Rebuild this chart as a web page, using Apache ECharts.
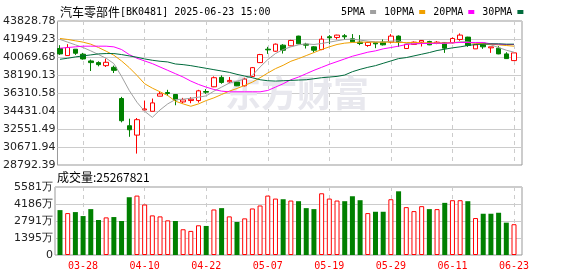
<!DOCTYPE html>
<html><head><meta charset="utf-8">
<script src="https://cdn.jsdelivr.net/npm/echarts@6/dist/echarts.min.js"></script>
<style>html,body{margin:0;padding:0;background:#fff}#c{width:578px;height:276px}</style>
</head><body><div id="c"></div>
<script>
const titleName = '汽车零部件';
const titleInfo = '[BK0481] 2025-06-23 15:00';
const volumeCaption = '成交量:25267821';
const watermark = '东方财富';

const dates = ['03-25','03-26','03-27','03-28','03-31','04-01','04-02','04-03','04-07','04-08',
  '04-09','04-10','04-11','04-14','04-15','04-16','04-17','04-18','04-21','04-22',
  '04-23','04-24','04-25','04-28','04-29','04-30','05-06','05-07','05-08','05-09',
  '05-12','05-13','05-14','05-15','05-16','05-19','05-20','05-21','05-22','05-23',
  '05-26','05-27','05-28','05-29','05-30','06-03','06-04','06-05','06-06','06-09',
  '06-10','06-11','06-12','06-13','06-16','06-17','06-18','06-19','06-20','06-23'];

const opens  = [40955,40219,40885,40359,39658,39483,39167,38992,35732,32893,
  31912,34541,34401,35978,36363,36153,35382,35522,35522,36468,
  36959,37941,37485,37450,37064,38046,39483,40885,40674,41305,
  41235,42252,41410,41130,40850,42181,42111,42287,41971,41621,
  41270,41550,41621,41621,42252,40955,41375,41621,41691,41480,
  41586,41550,41901,42146,40920,41516,41025,40990,40394,39693];
const closes = [40394,41060,40464,39868,39483,39272,39518,38677,33419,32472,
  33524,34646,35277,36223,36258,35592,35592,35662,36539,36398,
  37906,37415,37625,37064,37765,38957,40324,40815,41410,40779,
  41796,41445,41305,40779,41936,42076,42357,42181,41656,41480,
  41586,41445,41340,42252,41621,41375,41621,41796,41340,41621,
  40990,42006,42357,41270,41340,41130,41130,40394,39903,40499];
const lows   = [40289,40219,40289,39798,38606,39097,39027,38396,33244,31737,
  29984,34470,34401,35978,36013,35031,35242,35242,35312,36223,
  36924,37275,37345,37029,36994,37975,39448,40394,40604,40429,
  41200,41410,40955,40534,40779,41410,41901,41866,41621,41305,
  41130,40990,41270,41480,41130,40920,41340,41165,41305,41410,
  40499,41480,41761,41130,40920,40920,40499,40359,39868,39693];
const highs  = [41305,41410,40885,40499,39798,39623,39903,39167,35907,33629,
  33699,35522,35732,36468,36644,36153,35802,35872,36644,36714,
  38046,38151,37975,37485,37906,39027,40394,41130,41480,41410,
  41866,42287,41550,41200,42287,42357,42392,42462,42462,42357,
  41656,41586,41901,42462,42322,41480,41691,41831,41761,41726,
  41621,42111,42532,42181,41410,41550,41130,41200,40569,40499];

const ma5  = [41901,41621,41340,41060,40710,40324,39938,39378,38046,36574,
  35347,34401,33769,34541,35172,35627,35662,35767,35872,36013,
  36504,36924,37345,37555,37765,38151,39027,39798,40429,40850,
  41130,41340,41445,41375,41480,41621,41761,41901,41936,41831,
  41726,41656,41621,41726,41761,41480,41445,41480,41480,41480,
  41480,41550,41656,41656,41480,41445,41340,41060,40779,40569];
const ma10 = [42006,41901,41761,41621,41410,41060,40674,40254,39658,38957,
  38151,37275,36819,36434,36048,35452,35172,34926,35172,35522,
  35802,36153,36504,36784,37099,37450,37906,38396,38852,39202,
  39623,39903,40219,40534,40850,41130,41375,41516,41586,41621,
  41621,41621,41621,41621,41586,41586,41586,41550,41550,41550,
  41550,41586,41586,41586,41516,41445,41410,41340,41270,41200];
const ma20 = [40990,41060,41130,41200,41200,41200,41200,41130,40850,40324,
  39938,39658,39378,39027,38677,38326,37975,37555,37205,36924,
  36679,36504,36434,36434,36434,36434,36434,36574,36924,37275,
  37695,37975,38326,38677,38992,39308,39588,39868,40149,40359,
  40569,40710,40920,41060,41200,41375,41445,41480,41480,41516,
  41516,41550,41586,41586,41586,41586,41445,41410,41375,41375];
const ma30 = [39833,39938,40079,40184,40289,40394,40429,40429,40324,40184,
  40044,39868,39728,39623,39553,39342,39272,39167,39027,38887,
  38747,38607,38466,38256,38081,37906,37695,37590,37555,37590,
  37625,37660,37695,37800,37906,37975,38046,38186,38536,38782,
  38992,39167,39413,39658,39903,40009,40184,40359,40534,40744,
  40885,41025,41130,41270,41375,41410,41445,41445,41410,41410];

// volume in 万
const volumes = [3684,3440,3522,3197,3766,2872,3088,3115,2790,4741,
  4876,4145,3251,3170,2844,2790,2113,1978,2438,2384,
  3738,3847,3170,2709,3007,3820,4064,4876,4632,4578,
  4470,4416,3847,3766,5066,4632,4470,4416,4822,4497,
  3440,3549,3549,4578,5228,3928,3603,4009,3766,3766,
  4280,4497,4497,4416,3034,3386,3386,3467,2655,2526.78];
const volUp = [0,1,0,0,0,0,1,0,0,0, 1,1,1,1,1,0,1,1,1,0,
  1,0,1,0,1,1,1,1,1,0, 1,0,0,0,1,1,1,0,0,0,
  1,0,0,1,0,1,1,1,0,1, 0,1,1,0,1,0,0,0,0,1];

const priceTicks = ['28792.39','30671.94','32551.49','34431.04','36310.58','38190.13','40069.68','41949.23','43828.78'];
const volTicks = ['0','1395万','2791万','4186万','5581万'];
const priceMin = 28792.39, priceMax = 43828.78, volMax = 5581;

const RED = '#ff0000', GREEN = '#008000';
const labelIdx = (i) => (i - 3) % 8 === 0;

const candleData = dates.map((d, i) => [opens[i], closes[i], lows[i], highs[i]]);
const volData = volumes.map((v, i) => ({
  value: v,
  itemStyle: volUp[i] ? {color: '#fff', borderColor: RED, borderWidth: 1} : {color: GREEN, borderColor: GREEN, borderWidth: 0}
}));

const chart = echarts.init(document.getElementById('c'), null, {renderer: 'canvas'});
const axisFont = {fontFamily: 'DejaVu Sans', fontSize: 11, color: '#222'};
const option = {
  animation: false,
  backgroundColor: '#fff',
  title: {
    left: 55, top: 1,
    text: '{cn|' + titleName + '}{m|' + titleInfo + '}',
    textStyle: {fontWeight: 'normal', rich: {
      cn: {fontFamily: 'Noto Sans CJK SC', fontSize: 12, color: '#000', fontWeight: 'normal'},
      m: {fontFamily: 'DejaVu Sans Mono', fontSize: 10, color: '#000', fontWeight: 'normal'}
    }}
  },
  legend: {
    left: 336, top: 2, align: 'right', icon: 'rect',
    itemWidth: 6, itemHeight: 4, itemGap: 8,
    textStyle: {fontFamily: 'DejaVu Sans Mono', fontSize: 10, color: '#000'},
    data: ['5PMA', '10PMA', '20PMA', '30PMA']
  },
  graphic: [
    {type: 'text', left: 57, top: 171, z: 5, style: {text: volumeCaption, font: '12px "Noto Sans CJK SC"', fill: '#000'}},
    {type: 'text', x: 297, y: 93, z: 1, style: {text: watermark, font: 'bold 36px "Noto Sans CJK SC"', fill: '#e8e8ee', align: 'center', verticalAlign: 'middle'}}
  ],
  grid: [
    {left: 55, right: 56, top: 21, height: 144, show: true, borderColor: '#999', borderWidth: 1},
    {left: 60, right: 64, top: 21, height: 144},
    {left: 55, right: 56, top: 187, height: 68, show: true, borderColor: '#999', borderWidth: 1},
    {left: 60, right: 64, top: 187, height: 68}
  ],
  xAxis: [
    {type: 'value', gridIndex: 0, min: 0, max: 1, show: false},
    {type: 'category', gridIndex: 1, data: dates, boundaryGap: false,
      axisLine: {show: false}, axisTick: {show: false}, axisLabel: {show: false},
      splitLine: {show: true, interval: labelIdx, lineStyle: {color: '#ccc', type: [4, 4], width: 1}}},
    {type: 'value', gridIndex: 2, min: 0, max: 1, show: false},
    {type: 'category', gridIndex: 3, data: dates, boundaryGap: false,
      axisLine: {show: false}, axisTick: {show: false},
      axisLabel: {show: true, interval: labelIdx, color: RED, fontFamily: 'DejaVu Sans Mono', fontSize: 10, margin: 6},
      splitLine: {show: true, interval: labelIdx, lineStyle: {color: '#ccc', type: [4, 4], width: 1}}}
  ],
  yAxis: [
    {type: 'value', gridIndex: 0, min: 0, max: 8, interval: 1,
      axisLine: {show: false}, axisTick: {show: false},
      axisLabel: Object.assign({margin: 2, formatter: (v) => priceTicks[Math.round(v)]}, axisFont),
      splitLine: {show: true, lineStyle: {color: '#ccc', width: 1}}},
    {type: 'value', gridIndex: 1, min: priceMin, max: priceMax, show: false, splitLine: {show: false}},
    {type: 'value', gridIndex: 2, min: 0, max: 4, interval: 1,
      axisLine: {show: false}, axisTick: {show: false},
      axisLabel: Object.assign({margin: 2, formatter: (v) => volTicks[Math.round(v)]}, axisFont),
      splitLine: {show: true, lineStyle: {color: '#ccc', width: 1}}},
    {type: 'value', gridIndex: 3, min: 0, max: volMax, show: false, splitLine: {show: false}}
  ],
  series: [
    {type: 'candlestick', name: 'K', xAxisIndex: 1, yAxisIndex: 1, data: candleData, barWidth: 5, clip: false, z: 3,
      itemStyle: {color: '#fff', color0: GREEN, borderColor: RED, borderColor0: GREEN, borderWidth: 1}},
    {type: 'line', name: '5PMA', xAxisIndex: 1, yAxisIndex: 1, data: ma5, showSymbol: false, symbol: 'none', color: '#a0a0a0', lineStyle: {width: 1}, z: 4},
    {type: 'line', name: '10PMA', xAxisIndex: 1, yAxisIndex: 1, data: ma10, showSymbol: false, symbol: 'none', color: '#f0a000', lineStyle: {width: 1}, z: 4},
    {type: 'line', name: '20PMA', xAxisIndex: 1, yAxisIndex: 1, data: ma20, showSymbol: false, symbol: 'none', color: '#ff00ff', lineStyle: {width: 1}, z: 4},
    {type: 'line', name: '30PMA', xAxisIndex: 1, yAxisIndex: 1, data: ma30, showSymbol: false, symbol: 'none', color: '#006b3c', lineStyle: {width: 1}, z: 4},
    {type: 'bar', name: 'VOL', xAxisIndex: 3, yAxisIndex: 3, data: volData, barWidth: 5, clip: false, z: 3}
  ]
};
chart.setOption(option);
</script></body></html>
